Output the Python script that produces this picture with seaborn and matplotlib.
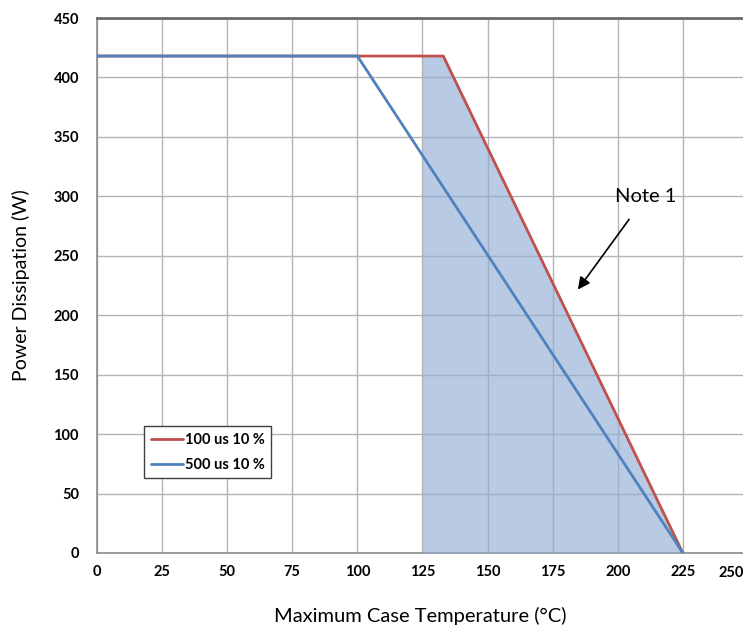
import matplotlib
matplotlib.use("Agg")
import matplotlib.pyplot as plt
import seaborn as sns
import pandas as pd

# Data
temp_100us = [0, 133, 225]
power_100us = [418, 418, 0]
temp_500us = [0, 100, 225]
power_500us = [418, 418, 0]
fill_temp = [125, 133, 225]
fill_power = [418, 418, 0]
series_labels = ["100 us 10 %", "500 us 10 %"]
x_ticks = [0, 25, 50, 75, 100, 125, 150, 175, 200, 225]
y_ticks = [0, 50, 100, 150, 200, 250, 300, 350, 400, 450]

sns.set_theme(style="whitegrid")
plt.rcParams['font.family'] = ['Lato', 'DejaVu Sans']
plt.rcParams['text.color'] = 'black'
plt.rcParams['axes.labelcolor'] = 'black'

df = pd.concat([
    pd.DataFrame({"temp": temp_100us, "power": power_100us, "series": series_labels[0]}),
    pd.DataFrame({"temp": temp_500us, "power": power_500us, "series": series_labels[1]}),
])

fig = plt.figure(figsize=(7.43, 6.30), dpi=100)
ax = fig.add_axes([97/743, 77/630, 646/743, 535/630])

ax.fill_between(fill_temp, fill_power, 0, color='#8eacd4', alpha=0.62, lw=0, zorder=3)

sns.lineplot(data=df, x="temp", y="power", hue="series",
             palette={series_labels[0]: '#c0504d', series_labels[1]: '#4f81bd'},
             linewidth=2.0, ax=ax, zorder=4, sort=False, estimator=None)

ax.set_xlim(0, 248.1)
ax.set_ylim(0, 450)
ax.set_xticks(x_ticks)
ax.set_yticks(y_ticks)
ax.tick_params(axis='both', length=0, labelsize=10.5, colors='black')
ax.tick_params(axis='x', pad=9)
ax.tick_params(axis='y', pad=13)
for lab in ax.get_xticklabels() + ax.get_yticklabels():
    lab.set_fontweight('bold')
ax.text(731, 630 - 573, "250", transform=None, ha='center', va='center',
        fontsize=10.5, fontweight='bold', color='black')

ax.grid(True, color='#b4b4b4', linewidth=1.0)
ax.set_axisbelow(True)
for s in ['left', 'bottom']:
    ax.spines[s].set_color('#8c8c8c')
    ax.spines[s].set_linewidth(1.2)
ax.spines['top'].set_color('#6a6a6a')
ax.spines['top'].set_linewidth(2.0)
ax.spines['right'].set_visible(False)

ax.set_xlabel("Maximum Case Temperature (°C)", fontsize=14.5, labelpad=20, color='black')
ax.set_ylabel("Power Dissipation (W)", fontsize=14, labelpad=17, color='black')

ax.annotate("Note 1", xy=(184.7, 221.6), xytext=(210.8, 300),
            fontsize=14.5, ha='center', va='center', color='black',
            arrowprops=dict(arrowstyle='-|>', color='black', lw=1.2,
                            mutation_scale=18, shrinkA=10, shrinkB=0), zorder=6)

leg = ax.legend(loc='upper left', bbox_to_anchor=(0.0728, 0.237), frameon=True,
                fancybox=False, edgecolor='#404040', framealpha=1,
                prop={'weight': 'bold', 'size': 10.5}, handlelength=2.2,
                handletextpad=0.15, borderpad=0.45, labelspacing=0.75,
                borderaxespad=0)
leg.get_frame().set_linewidth(1.0)
for t in leg.get_texts():
    t.set_color('black')
for line in leg.get_lines():
    line.set_linewidth(2.0)

fig.savefig("out.png", dpi=100)
